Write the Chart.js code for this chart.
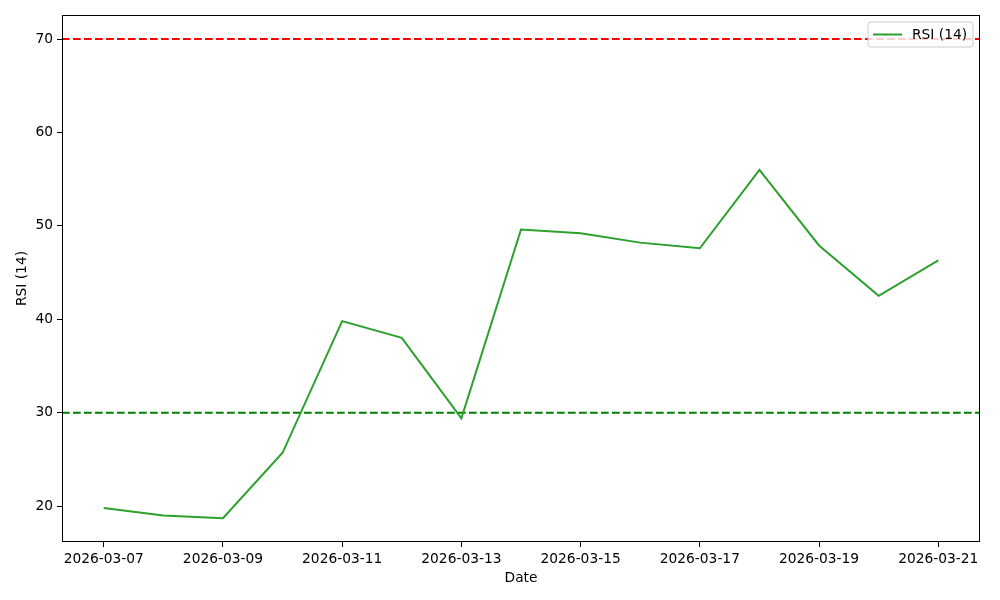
<!DOCTYPE html>
<html>
<head>
<meta charset="utf-8">
<script src="https://cdn.jsdelivr.net/npm/chart.js@4/dist/chart.umd.min.js"></script>
<style>
  html, body { margin: 0; padding: 0; background: #fff; }
  #wrap { width: 1000px; height: 600px; }
</style>
</head>
<body>
<div id="wrap"><canvas id="rsi"></canvas></div>
<script>
  // Data
  var dates = ["2026-03-07", "2026-03-08", "2026-03-09", "2026-03-10", "2026-03-11",
    "2026-03-12", "2026-03-13", "2026-03-14", "2026-03-15", "2026-03-16",
    "2026-03-17", "2026-03-18", "2026-03-19", "2026-03-20", "2026-03-21"];
  var rsiValues = [19.8, 19.0, 18.7, 25.7, 39.8, 38.0, 29.4, 49.6, 49.2, 48.2, 47.6, 56.0, 47.9, 42.5, 46.3];
  var overbought = 70;
  var oversold = 30;
  var yTicks = [20, 30, 40, 50, 60, 70];
  var xTicks = [0, 2, 4, 6, 8, 10, 12, 14];

  var FONT = "'DejaVu Sans', sans-serif";
  Chart.defaults.font.family = FONT;
  Chart.defaults.font.size = 13.8;
  Chart.defaults.color = "#000";

  var xMin = -0.7, xMax = dates.length - 1 + 0.7;

  // Frame + legend like matplotlib
  var framePlugin = {
    id: "frame",
    afterDatasetsDraw: function (chart) {
      var a = chart.chartArea, c = chart.ctx;
      c.save();
      c.strokeStyle = "#000";
      c.lineWidth = 1;
      c.strokeRect(Math.round(a.left) + 0.5, Math.round(a.top) + 0.5,
        Math.round(a.right - a.left) - 1, Math.round(a.bottom - a.top) - 1);

      // legend
      var bx = 868, by = 22, bw = 105, bh = 25, r = 3;
      c.beginPath();
      c.moveTo(bx + r, by);
      c.arcTo(bx + bw, by, bx + bw, by + bh, r);
      c.arcTo(bx + bw, by + bh, bx, by + bh, r);
      c.arcTo(bx, by + bh, bx, by, r);
      c.arcTo(bx, by, bx + bw, by, r);
      c.closePath();
      c.fillStyle = "rgba(255,255,255,0.8)";
      c.fill();
      c.strokeStyle = "#cccccc";
      c.stroke();
      c.beginPath();
      c.moveTo(873, 34.5);
      c.lineTo(902, 34.5);
      c.strokeStyle = "#2ca02c";
      c.lineWidth = 2;
      c.stroke();
      c.fillStyle = "#000";
      c.font = "13.8px " + FONT;
      c.textBaseline = "middle";
      c.fillText("RSI (14)", 912, 35);
      c.restore();
    }
  };

  function hline(val, color) {
    return {
      label: "h" + val,
      data: [{ x: xMin, y: val }, { x: xMax, y: val }],
      borderColor: color,
      borderWidth: 2,
      borderDash: [7.7, 3.3],
      pointRadius: 0,
      fill: false
    };
  }

  var ctx = document.getElementById("rsi").getContext("2d");
  var myChart = new Chart(ctx, {
    type: "line",
    data: {
      datasets: [
        {
          label: "RSI (14)",
          data: rsiValues.map(function (v, i) { return { x: i, y: v }; }),
          borderColor: "#2ca02c",
          borderWidth: 2,
          pointRadius: 0,
          tension: 0,
          fill: false
        },
        hline(overbought, "#ff0000"),
        hline(oversold, "#008000")
      ]
    },
    options: {
      responsive: true,
      maintainAspectRatio: false,
      animation: false,
      layout: { padding: { top: 15, right: 20, left: 0, bottom: 0 } },
      plugins: {
        legend: { display: false },
        tooltip: { enabled: false }
      },
      scales: {
        x: {
          type: "linear",
          min: xMin,
          max: xMax,
          afterBuildTicks: function (s) { s.ticks = xTicks.map(function (v) { return { value: v }; }); },
          afterFit: function (s) { s.height = 58; },
          ticks: {
            autoSkip: false,
            maxRotation: 0,
            padding: 4,
            callback: function (v) { return dates[v]; }
          },
          grid: { drawOnChartArea: false, drawTicks: true, tickLength: 5, color: "#000" },
          border: { display: false },
          title: { display: true, text: "Date", padding: { top: 4, bottom: 13 } }
        },
        y: {
          min: 16.15,
          max: 72.57,
          afterBuildTicks: function (s) { s.ticks = yTicks.map(function (v) { return { value: v }; }); },
          afterFit: function (s) { s.width = 62; },
          ticks: { padding: 4 },
          grid: { drawOnChartArea: false, drawTicks: true, tickLength: 5, color: "#000" },
          border: { display: false },
          title: { display: true, text: "RSI (14)", padding: { top: 14, bottom: 0 } }
        }
      }
    },
    plugins: [framePlugin]
  });
</script>
</body>
</html>
